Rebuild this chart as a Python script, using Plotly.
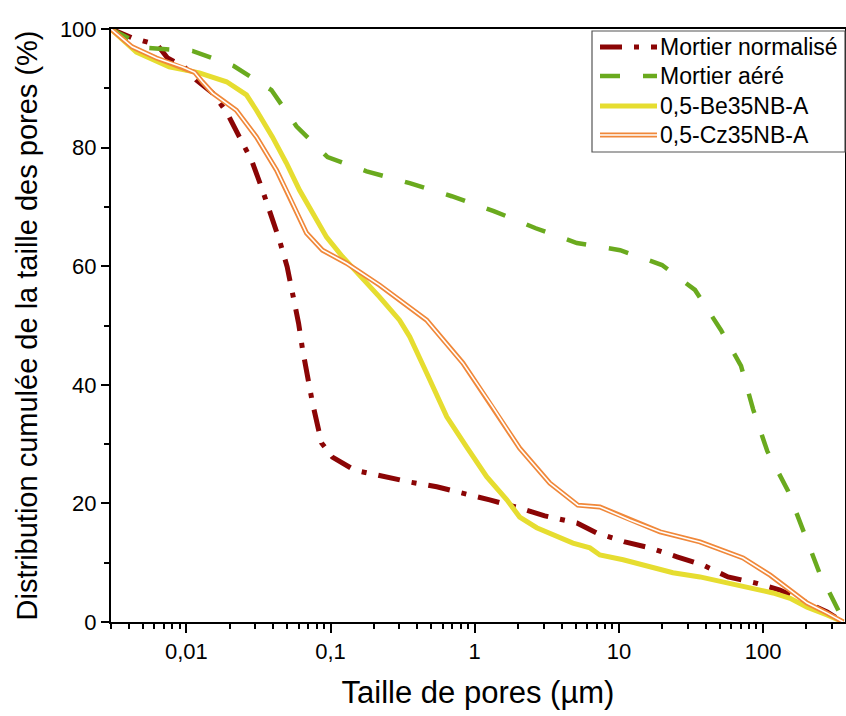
import numpy as np
import plotly.graph_objects as go

# ---------------- data ----------------
norm_x = [0.003, 0.00422, 0.0063, 0.0074, 0.0097, 0.0117, 0.0152, 0.019, 0.0233, 0.0283,
          0.0333, 0.039, 0.0442, 0.05, 0.055, 0.06, 0.064, 0.069, 0.075, 0.0866,
          0.103, 0.147, 0.226, 0.354, 0.545, 0.826, 1.27, 2.05, 3.06, 5.11,
          7.03, 11.0, 16.4, 25.3, 38.3, 57.1, 87.9, 131, 202, 278, 360]
norm_y = [100, 98.5, 97.3, 95.1, 93.6, 91.4, 89.2, 86.0, 81.8, 77.9,
          73.2, 68.6, 64.4, 59.9, 55.1, 50.4, 45.9, 41.3, 36.9, 30.2,
          27.8, 25.6, 24.6, 23.6, 22.8, 21.8, 20.6, 19.2, 17.9, 16.7,
          15.0, 13.5, 12.5, 11.0, 9.6, 7.6, 6.6, 5.4, 3.2, 1.7, 0]

aere_x = [0.003, 0.00535, 0.011, 0.0212, 0.0389, 0.058, 0.0953, 0.178, 0.354, 0.692,
          1.355, 2.65, 5.11, 10.2, 19.9, 33.7, 51.1, 70.3, 85.2, 107,
          149, 193, 245, 337, 365]
aere_y = [100, 96.8, 96.3, 93.8, 89.7, 83.6, 78.4, 76.0, 74.0, 71.8,
          69.3, 66.4, 63.9, 62.7, 60.2, 56.0, 49.2, 43.2, 35.9, 28.8,
          22.1, 15.2, 8.4, 1.7, 0]

be_x = [0.003, 0.0045, 0.0076, 0.0123, 0.019, 0.0261, 0.0306, 0.0395, 0.0494, 0.061,
        0.075, 0.0938, 0.121, 0.159, 0.219, 0.301, 0.354, 0.464, 0.64, 0.88,
        1.21, 1.67, 2.05, 2.69, 3.48, 4.8, 6.29, 7.38, 10.7, 16.4,
        23.7, 36.5, 56.2, 81.3, 117, 154, 202, 278, 360]
be_y = [100, 96.1, 93.6, 92.6, 91.1, 88.9, 86.3, 81.8, 77.4, 72.8,
        69.0, 64.9, 61.6, 58.5, 54.8, 50.9, 48.1, 42.0, 34.6, 29.5,
        24.5, 20.6, 17.7, 15.9, 14.7, 13.3, 12.5, 11.3, 10.5, 9.3,
        8.3, 7.6, 6.6, 5.7, 4.9, 4.0, 2.5, 1.2, 0]

cz_x = [0.003, 0.0042, 0.0062, 0.0094, 0.0114, 0.0129, 0.0152, 0.0222, 0.0306, 0.0422,
        0.0519, 0.0681, 0.0879, 0.129, 0.219, 0.301, 0.464, 0.826, 1.33, 2.05,
        3.32, 5.19, 7.38, 11.9, 19.3, 36.5, 72.6, 112, 147, 202, 278, 360]
cz_y = [100, 97.0, 95.1, 93.6, 92.7, 91.1, 89.2, 86.3, 81.8, 76.2,
        71.7, 65.6, 62.7, 60.5, 56.8, 54.3, 50.9, 43.7, 36.3, 29.3,
        23.4, 19.7, 19.4, 17.2, 15.2, 13.5, 10.8, 7.9, 5.7, 3.2, 1.5, 0]

series_names = ["Mortier normalisé", "Mortier aéré", "0,5-Be35NB-A", "0,5-Cz35NB-A"]

x_tickvals = [0.01, 0.1, 1, 10, 100]
x_ticktext = ["0,01", "0,1", "1", "10", "100"]
y_tickvals = [0, 20, 40, 60, 80, 100]

RED = "#8B0505"
GREEN = "#6AAA1E"
YELLOW = "#E6DD30"
ORANGE = "#F0883A"
FONT = "Liberation Sans"

RED_DASH = "22px,12px,5px,12px"
GREEN_DASH = "20px,23px"

fig = go.Figure()
fig.add_trace(go.Scatter(x=norm_x, y=norm_y, mode="lines", name=series_names[0],
                         line=dict(color=RED, width=5, dash=RED_DASH), showlegend=False))
fig.add_trace(go.Scatter(x=aere_x, y=aere_y, mode="lines", name=series_names[1],
                         line=dict(color=GREEN, width=4.5, dash=GREEN_DASH), showlegend=False))
fig.add_trace(go.Scatter(x=be_x, y=be_y, mode="lines", name=series_names[2],
                         line=dict(color=YELLOW, width=5), showlegend=False))
fig.add_trace(go.Scatter(x=cz_x, y=cz_y, mode="lines", name=series_names[3],
                         line=dict(color=ORANGE, width=5), showlegend=False))
fig.add_trace(go.Scatter(x=cz_x, y=cz_y, mode="lines", name=series_names[3],
                         line=dict(color="white", width=1.6), showlegend=False,
                         hoverinfo="skip"))

# minor ticks on log axis
minor_x = [k * 10.0 ** e for e in range(-3, 3) for k in range(2, 10)
           if 0.003 <= k * 10.0 ** e <= 370]

W, H = 846, 716
L, R, T, B = 111, 1, 29, 94
pw, ph = W - L - R, H - T - B


def px(xp):
    return (xp - L) / pw


def py(yp):
    return (H - B - yp) / ph


# manual legend (box, samples, labels)
shapes = [dict(type="rect", xref="paper", yref="paper", x0=px(592), x1=px(845),
               y0=py(152), y1=py(31), line=dict(color="#555555", width=1.2),
               fillcolor="white", layer="above")]
annotations = []
rows = [47, 76, 106, 135]
styles = [(RED, 5, RED_DASH), (GREEN, 4.5, GREEN_DASH), (YELLOW, 5, "solid"), (ORANGE, 5, "solid")]
for name, yr, (c, w, d) in zip(series_names, rows, styles):
    shapes.append(dict(type="line", xref="paper", yref="paper", x0=px(600), x1=px(657),
                       y0=py(yr), y1=py(yr), line=dict(color=c, width=w, dash=d), layer="above"))
    annotations.append(dict(xref="paper", yref="paper", x=px(658), y=py(yr), text=name,
                            showarrow=False, xanchor="left", yanchor="middle",
                            font=dict(family=FONT, size=23, color="black")))
shapes.append(dict(type="line", xref="paper", yref="paper", x0=px(600), x1=px(657),
                   y0=py(rows[3]), y1=py(rows[3]), line=dict(color="white", width=1.6),
                   layer="above"))

fig.update_layout(
    width=W, height=H,
    margin=dict(l=L, r=R, t=T, b=B, pad=0, autoexpand=False),
    paper_bgcolor="white", plot_bgcolor="white",
    font=dict(family=FONT, size=22, color="black"),
    shapes=shapes, annotations=annotations,
    showlegend=False,
)
fig.update_xaxes(
    type="log", range=[np.log10(0.003), np.log10(370)], automargin=False,
    tickvals=x_tickvals, ticktext=x_ticktext,
    ticks="outside", ticklen=9, tickwidth=1.5, tickcolor="black",
    showline=True, linecolor="black", linewidth=2, mirror=True,
    showgrid=False, zeroline=False,
    tickfont=dict(family=FONT, size=22),
    minor=dict(tickvals=minor_x, ticks="outside", ticklen=5, tickwidth=1.5,
               tickcolor="black", showgrid=False),
    title=dict(text="Taille de pores (µm)", font=dict(family=FONT, size=31), standoff=18),
)
fig.update_yaxes(
    range=[0, 100], tickvals=y_tickvals, automargin=False,
    ticks="outside", ticklen=8, tickwidth=1.5, tickcolor="black",
    showline=True, linecolor="black", linewidth=2, mirror=True,
    showgrid=False, zeroline=False,
    tickfont=dict(family=FONT, size=22),
    minor=dict(dtick=10, ticks="outside", ticklen=5, tickwidth=1.5,
               tickcolor="black", showgrid=False),
    title=dict(text="Distribution cumulée de la taille des pores (%)",
               font=dict(family=FONT, size=29), standoff=14),
)

fig.write_html("out.html", config={"displayModeBar": False},
               post_script="document.body.style.margin='0';document.body.style.overflow='hidden';")
